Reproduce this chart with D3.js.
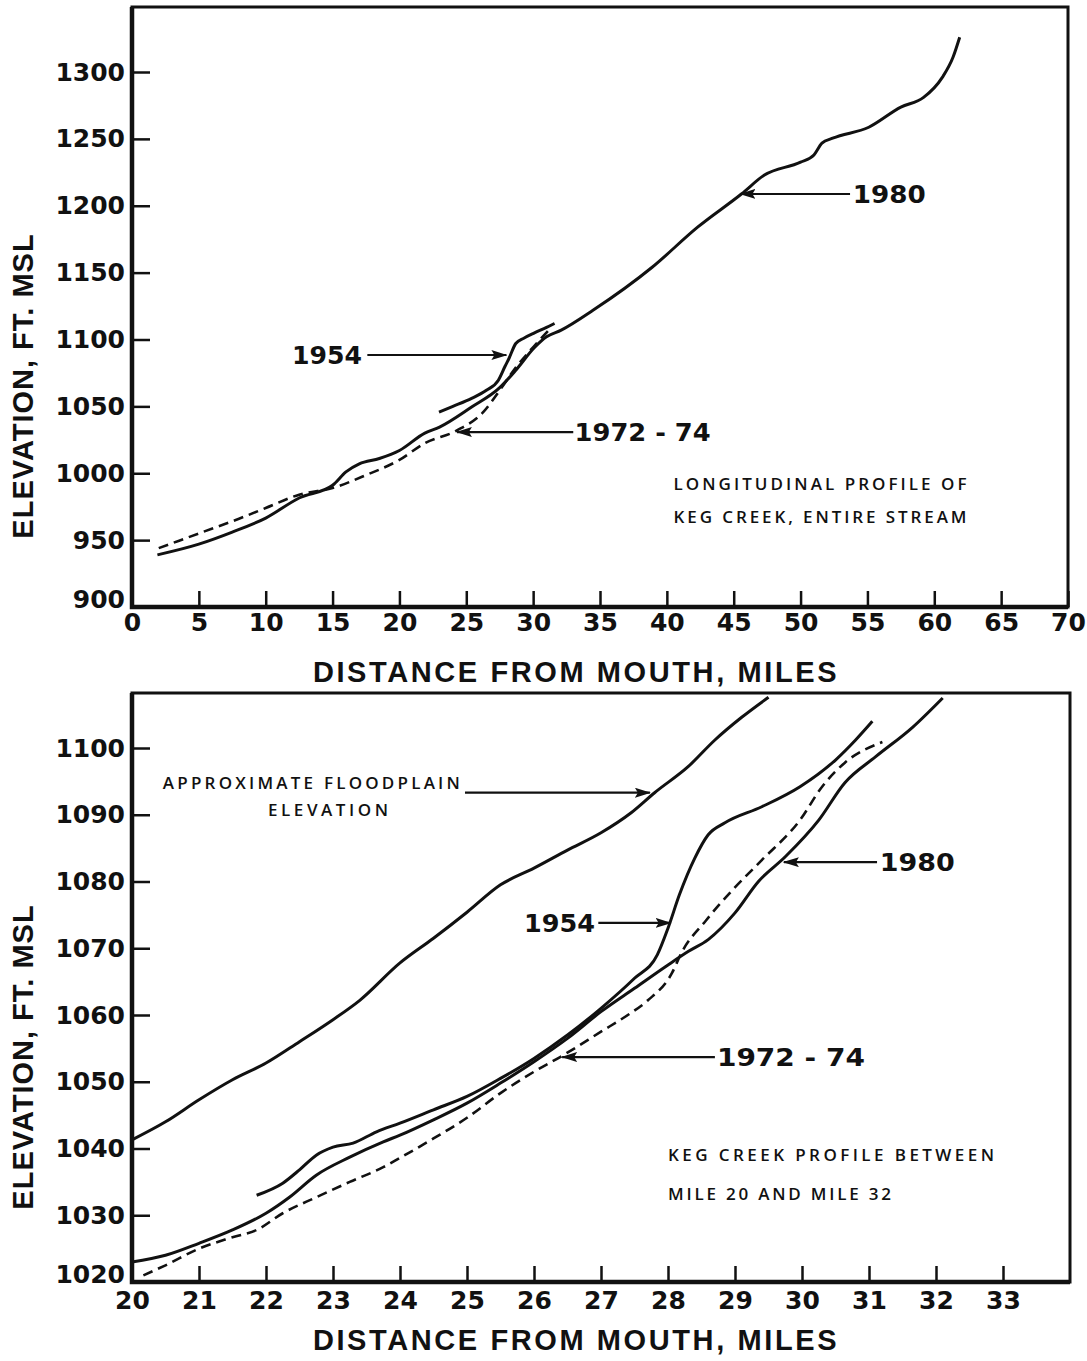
<!DOCTYPE html>
<html>
<head>
<meta charset="utf-8">
<script src="https://cdn.jsdelivr.net/npm/d3@7"></script>
<style>
	body { margin: 0; background: #fff; }
	svg { display: block; }
	.tick text { font-family: 'DejaVu Sans', sans-serif; font-weight: bold; font-size: 25px; fill: #111; }
	.axis-title { font-family: 'Liberation Sans', Arial, sans-serif; font-weight: bold; font-size: 29px; fill: #111; }
	.call-out { font-family: 'DejaVu Sans', sans-serif; font-weight: bold; font-size: 25px; fill: #111; }
	.note { font-family: 'Open Sans', 'Liberation Sans', sans-serif; font-weight: 600; font-size: 17px; fill: #111; }
</style>
</head>
<body>
<div id="graph"></div>
<script>

/****************************************
 *
 * Data
 * [mile from mouth, elevation ft msl]
 *
 ****************************************/

// entire stream
var topXTicks = [0, 5, 10, 15, 20, 25, 30, 35, 40, 45, 50, 55, 60, 65, 70]
var topYTicks = [900, 950, 1000, 1050, 1100, 1150, 1200, 1250, 1300]

var top1980 = [
	[1.9, 939], [5, 947], [7.5, 956], [10, 966.5], [12.5, 981.5], [15, 991],
	[16, 1001], [17, 1007], [18.5, 1011], [20, 1017], [21.9, 1030], [23, 1034.5],
	[25.4, 1049.5], [27.5, 1064], [28.7, 1077], [30.1, 1094], [31, 1102], [32.1, 1107],
	[34.5, 1122], [38.9, 1154], [42.3, 1184], [45.6, 1209], [47.3, 1223], [50, 1232.6],
	[51, 1238], [51.6, 1246.8], [52.4, 1250.5], [55.1, 1258.7], [57.5, 1273.7],
	[59.2, 1281], [60.6, 1296], [61.4, 1311], [61.9, 1326]
]
var top1954 = [
	[22.96, 1045.7], [24, 1050], [25.4, 1056], [26.5, 1062], [27.4, 1069.6], [27.9, 1080],
	[28.2, 1086], [28.7, 1097], [29.3, 1101], [30.1, 1105], [31, 1109], [31.6, 1112]
]
var top1972 = [
	[2, 944], [5, 955], [8, 966], [10, 974], [12.5, 984], [15, 989], [17.5, 998.6],
	[20, 1010], [21.9, 1022.5], [24.3, 1032], [26.3, 1046], [27.5, 1062], [28.7, 1079],
	[29.8, 1092], [30.7, 1102], [31.3, 1108.5]
]

// mile 20 to mile 32
var botXTicks = [20, 21, 22, 23, 24, 25, 26, 27, 28, 29, 30, 31, 32, 33]
var botYTicks = [1020, 1030, 1040, 1050, 1060, 1070, 1080, 1090, 1100]

var botFloodplain = [
	[20, 1041.3], [20.5, 1044], [21, 1047.3], [21.5, 1050.3], [22, 1052.8], [22.5, 1056],
	[23, 1059.3], [23.4, 1062.2], [24, 1067.8], [24.5, 1071.5], [25, 1075.4], [25.5, 1079.5],
	[26, 1082], [26.5, 1084.7], [27, 1087.3], [27.45, 1090.3], [27.8, 1093.3], [28.3, 1097.2],
	[28.7, 1101.2], [29.1, 1104.6], [29.5, 1107.6]
]
var bot1954 = [
	[21.86, 1033], [22.25, 1034.8], [22.5, 1036.8], [22.75, 1039], [23, 1040.2], [23.3, 1040.8],
	[23.65, 1042.5], [24, 1043.8], [24.5, 1045.8], [25, 1047.8], [25.5, 1050.5], [26, 1053.5],
	[26.5, 1057], [27, 1061], [27.5, 1065.5], [27.84, 1069], [28, 1073], [28.17, 1078],
	[28.4, 1083.5], [28.6, 1087], [28.85, 1088.8], [29.4, 1091.2], [29.97, 1094.2],
	[30.5, 1098.2], [30.8, 1101.2], [31.05, 1104]
]
var bot1980 = [
	[20, 1023], [20.5, 1024], [21, 1025.8], [21.5, 1027.8], [22, 1030.3], [22.35, 1032.7],
	[22.75, 1036], [23.25, 1038.7], [23.75, 1041], [24, 1042], [24.5, 1044.3], [25, 1046.8],
	[25.5, 1049.8], [26, 1053], [26.5, 1056.5], [27, 1060.5], [27.5, 1064], [28, 1067.5],
	[28.3, 1069.5], [28.6, 1071.3], [29, 1075.3], [29.35, 1080], [29.75, 1083.7],
	[30.25, 1089.2], [30.64, 1094.8], [31.1, 1098.7], [31.65, 1103.1], [32.1, 1107.5]
]
var bot1972 = [
	[20.17, 1021], [20.5, 1022.5], [21, 1025], [21.5, 1026.7], [21.86, 1027.8], [22.25, 1030.3],
	[22.75, 1032.7], [23.25, 1035], [23.75, 1037.2], [24, 1038.6], [24.5, 1041.5], [25, 1044.6],
	[25.5, 1048.3], [26, 1051.5], [26.44, 1054], [27, 1057.5], [27.4, 1060], [27.7, 1062.2],
	[28.06, 1066.3], [28.2, 1069.3], [28.57, 1074.2], [28.96, 1078.7], [29.4, 1083.2],
	[29.97, 1089.2], [30.3, 1094.2], [30.64, 1097.8], [31.2, 1100.9]
]

/****************************************
 *
 * Panel layout
 *
 ****************************************/

var width = 1087
	, height = 1361
	, panels = [
		{
			xDomain: [0, 70], yDomain: [900, 1348.6]
			, left: 132, right: 1068, top: 7, bottom: 607
			, xTicks: topXTicks, yTicks: topYTicks, xPad: 6
			, series: [
				{ values: top1980 }, { values: top1954 }, { values: top1972, dashed: true }
			]
			// call-outs: text position and arrow in data units
			, callOuts: [
				{ text: '1980', at: [53.9, 1208.8], anchor: 'start', len: 73, from: 53.7, to: 45.5 }
				, { text: '1954', at: [17.2, 1088.4], anchor: 'end', len: 70, from: 17.6, to: 28.0 }
				, { text: '1972 - 74', at: [33.1, 1030.8], anchor: 'start', len: 136, from: 33.0, to: 24.3 }
			]
			, notes: [
				{ text: 'LONGITUDINAL  PROFILE OF', at: [40.5, 992], len: 293 }
				, { text: 'KEG CREEK, ENTIRE STREAM', at: [40.5, 967.3], len: 293 }
			]
			, yTitle: 386, xTitle: 682
		}
		, {
			xDomain: [20, 34], yDomain: [1020, 1108.24]
			, left: 132, right: 1070, top: 693, bottom: 1282
			, xTicks: botXTicks, yTicks: botYTicks, xPad: 9
			, series: [
				{ values: botFloodplain }, { values: bot1954 }, { values: bot1980 },
				{ values: bot1972, dashed: true }
			]
			, callOuts: [
				{ text: '1954', at: [26.91, 1073.8], anchor: 'end', len: 71, from: 26.96, to: 28.04 }
				, { text: '1980', at: [31.16, 1082.9], anchor: 'start', len: 75, from: 31.12, to: 29.73 }
				, { text: '1972 - 74', at: [28.73, 1053.7], anchor: 'start', len: 148, from: 28.7, to: 26.42 }
				, { text: '', at: [24.97, 1093.3], anchor: 'start', len: 0, from: 24.97, to: 27.73 }
			]
			, notes: [
				{ text: 'APPROXIMATE  FLOODPLAIN', at: [20.46, 1094.8], len: 297 }
				, { text: 'ELEVATION', at: [22.03, 1090.7], len: 120 }
				, { text: 'KEG  CREEK  PROFILE BETWEEN', at: [28.0, 1039], len: 326 }
				, { text: 'MILE 20 AND MILE  32', at: [28.0, 1033.2], len: 223 }
			]
			, yTitle: 1057, xTitle: 1350
		}
	]

var svg = d3.select('#graph')
	.append('svg')
	.attr('width', width)
	.attr('height', height)
	.attr('viewBox', '0 0 ' + width + ' ' + height)

// filled arrow head used by all call-outs
svg.append('defs')
	.append('marker')
	.attr('id', 'arrowHead')
	.attr('markerUnits', 'userSpaceOnUse')
	.attr('markerWidth', 16)
	.attr('markerHeight', 10)
	.attr('refX', 15)
	.attr('refY', 5)
	.attr('orient', 'auto')
	.append('path')
	.attr('d', 'M0,0L16,5L0,10L3,5Z')
	.attr('fill', '#111')

/**
 * draw one profile panel: frame, inward ticks, profiles and call-outs
 *
 * @param {object} p panel settings
 */
function drawPanel(p) {

	var x = d3.scaleLinear().domain(p.xDomain).range([p.left, p.right])
		, y = d3.scaleLinear().domain(p.yDomain).range([p.bottom, p.top])
		, g = svg.append('g')
		, line = d3.line()
			.x(function(d) { return x(d[0]) })
			.y(function(d) { return y(d[1]) })
			.curve(d3.curveMonotoneX)

	// profiles
	g.append('g')
		.selectAll('path')
		.data(p.series)
		.join('path')
		.attr('d', function(d) { return line(d.values) })
		.attr('fill', 'none')
		.attr('stroke', '#111')
		.attr('stroke-width', function(d) { return d.dashed ? 2.6 : 3 })
		.attr('stroke-linejoin', 'round')
		.attr('stroke-dasharray', function(d) { return d.dashed ? '10,6' : null })

	// axes, ticks pointing into the frame
	var xAxis = g.append('g')
		.attr('transform', 'translate(0,' + p.bottom + ')')
		.call(d3.axisBottom(x).tickValues(p.xTicks).tickFormat(d3.format('d'))
			.tickSizeInner(-16).tickSizeOuter(0).tickPadding(p.xPad))
	var yAxis = g.append('g')
		.attr('transform', 'translate(' + p.left + ',0)')
		.call(d3.axisLeft(y).tickValues(p.yTicks).tickFormat(d3.format('d'))
			.tickSizeInner(-18).tickSizeOuter(0).tickPadding(7))

	xAxis.select('.domain').remove()
	yAxis.select('.domain').remove()
	g.selectAll('.tick line').attr('stroke', '#111').attr('stroke-width', 2.5)

	// lowest elevation label sits just above the distance axis
	yAxis.selectAll('.tick text')
		.filter(function(d, i) { return i === 0 })
		.attr('dy', '0.02em')

	// frame
	g.append('rect')
		.attr('x', p.left)
		.attr('y', p.top)
		.attr('width', p.right - p.left)
		.attr('height', p.bottom - p.top)
		.attr('fill', 'none')
		.attr('stroke', '#111')
		.attr('stroke-width', 3)
	g.append('path')
		.attr('d', 'M' + p.left + ',' + p.top + 'V' + p.bottom + 'H' + p.right)
		.attr('fill', 'none')
		.attr('stroke', '#111')
		.attr('stroke-width', 4.5)

	// call-outs with arrows
	var co = g.append('g').selectAll('g')
		.data(p.callOuts)
		.join('g')

	co.append('line')
		.attr('x1', function(d) { return x(d.from) })
		.attr('x2', function(d) { return x(d.to) })
		.attr('y1', function(d) { return y(d.at[1]) })
		.attr('y2', function(d) { return y(d.at[1]) })
		.attr('stroke', '#111')
		.attr('stroke-width', 2.2)
		.attr('marker-end', 'url(#arrowHead)')

	co.filter(function(d) { return d.text })
		.append('text')
		.attr('class', 'call-out')
		.attr('x', function(d) { return x(d.at[0]) })
		.attr('y', function(d) { return y(d.at[1]) })
		.attr('dy', '0.36em')
		.attr('text-anchor', function(d) { return d.anchor })
		.attr('textLength', function(d) { return d.len })
		.attr('lengthAdjust', 'spacingAndGlyphs')
		.text(function(d) { return d.text })

	g.append('g').selectAll('text')
		.data(p.notes)
		.join('text')
		.attr('class', 'note')
		.attr('x', function(d) { return x(d.at[0]) })
		.attr('y', function(d) { return y(d.at[1]) })
		.attr('dy', '0.36em')
		.attr('textLength', function(d) { return d.len })
		.attr('lengthAdjust', 'spacing')
		.text(function(d) { return d.text })

	// axis titles
	g.append('text')
		.attr('class', 'axis-title')
		.attr('transform', 'translate(33,' + p.yTitle + ') rotate(-90)')
		.attr('text-anchor', 'middle')
		.style('letter-spacing', '1px')
		.text('ELEVATION, FT. MSL')

	g.append('text')
		.attr('class', 'axis-title')
		.attr('x', 576)
		.attr('y', p.xTitle)
		.attr('text-anchor', 'middle')
		.style('letter-spacing', '2.6px')
		.text('DISTANCE  FROM  MOUTH, MILES')
}

panels.forEach(drawPanel)

</script>
</body>
</html>
